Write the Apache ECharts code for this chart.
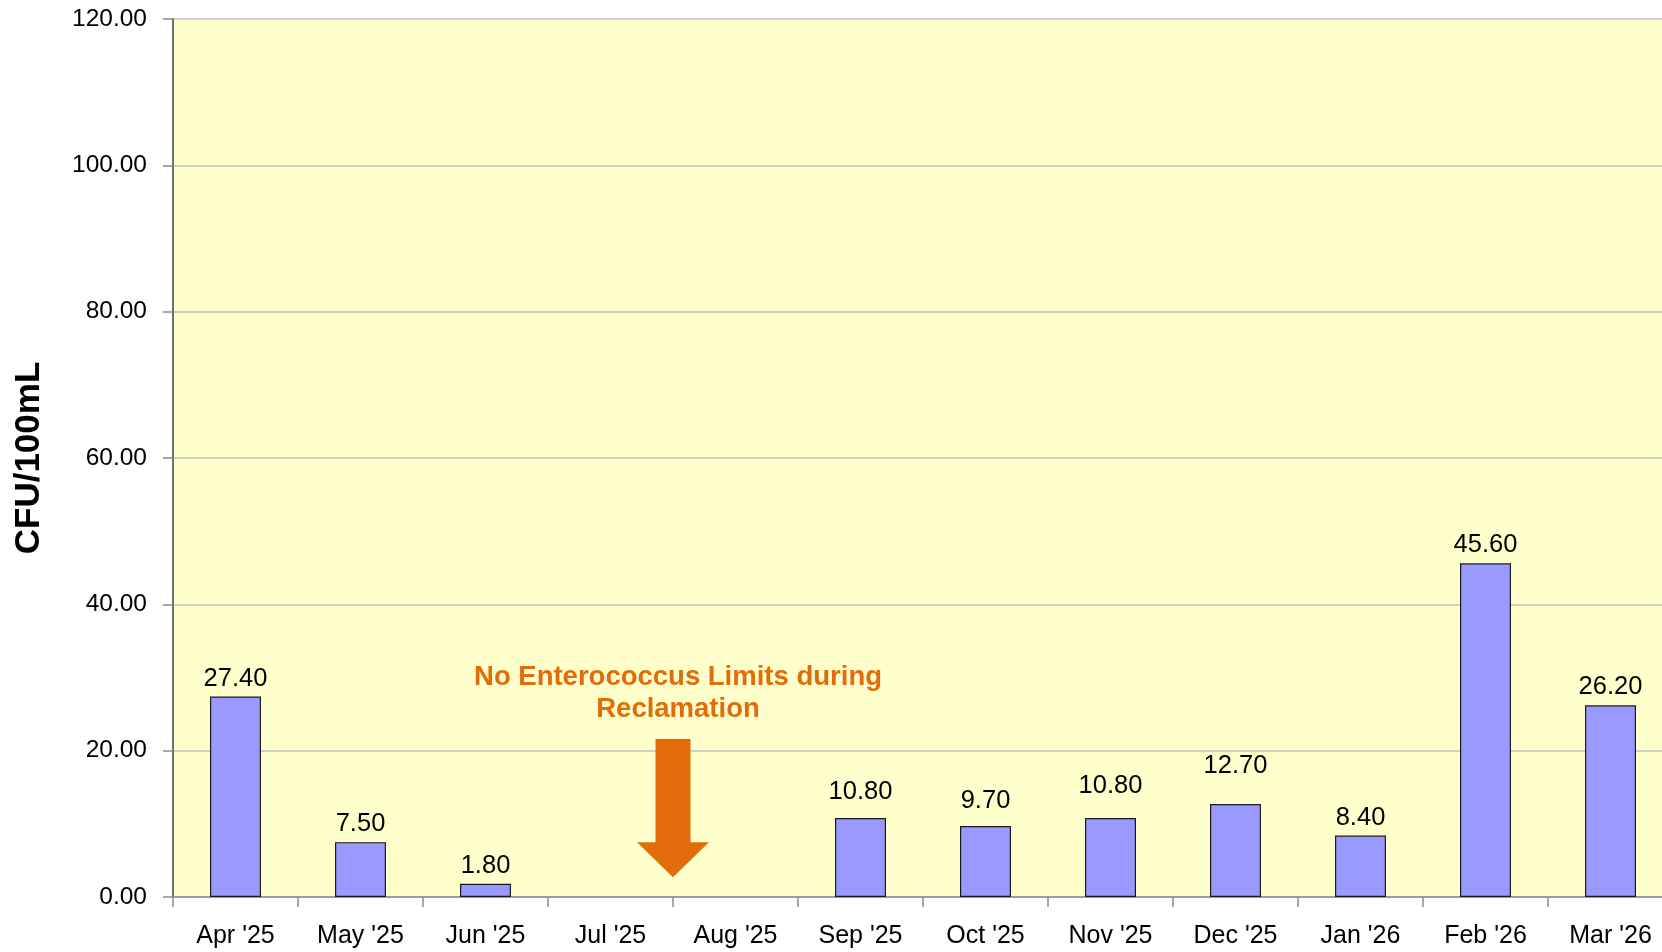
<!DOCTYPE html>
<html>
<head>
<meta charset="utf-8">
<script src="https://cdn.jsdelivr.net/npm/echarts@6/dist/echarts.min.js"></script>
<style>
  html, body { margin: 0; padding: 0; background: #ffffff; }
  #chart { width: 1662px; height: 952px; }
</style>
</head>
<body>
<div id="chart"></div>
<script>
// Monthly enterococcus results (CFU/100mL)
const months = ["Apr '25", "May '25", "Jun '25", "Jul '25", "Aug '25", "Sep '25",
                "Oct '25", "Nov '25", "Dec '25", "Jan '26", "Feb '26", "Mar '26"];
const enterococcus = [27.4, 7.5, 1.8, null, null, 10.8, 9.7, 10.8, 12.7, 8.4, 45.6, 26.2];
const yTicks = [0, 20, 40, 60, 80, 100, 120];
const noteLines = ["No Enterococcus Limits during", "Reclamation"];

const FONT = "'Liberation Sans', Arial, sans-serif";
const ORANGE = '#E36C0A';

// A few value labels sit a little higher above their bars (pixels of extra lift)
const labelLift = { "Sep '25": 8, "Oct '25": 7, "Nov '25": 14, "Dec '25": 20 };

const barData = enterococcus.map((v, i) => {
  const lift = labelLift[months[i]] || 0;
  return lift ? { value: v, label: { distance: 5 + lift } } : v;
});

const chart = echarts.init(document.getElementById('chart'), null, { renderer: 'canvas' });

chart.setOption({
  animation: false,
  backgroundColor: '#ffffff',
  grid: {
    left: 173, right: -11, top: 19, bottom: 55,
    outerBoundsMode: 'none',
    show: true, backgroundColor: '#FFFFCC', borderWidth: 0
  },
  xAxis: {
    type: 'category',
    data: months,
    axisLine: { lineStyle: { color: '#8c8c8c', width: 1.5 } },
    axisTick: { show: true, alignWithLabel: false, length: 10, lineStyle: { color: '#8c8c8c', width: 1.5 } },
    axisLabel: { color: '#000', fontFamily: FONT, fontSize: 25, margin: 27 }
  },
  yAxis: {
    type: 'value',
    min: yTicks[0], max: yTicks[yTicks.length - 1], interval: yTicks[1] - yTicks[0],
    name: 'CFU/100mL',
    nameLocation: 'middle',
    nameGap: 126,
    nameRotate: 90,
    nameTextStyle: { color: '#000', fontFamily: FONT, fontSize: 35, fontWeight: 'bold' },
    axisLine: { show: true, lineStyle: { color: '#404040', width: 1.5 } },
    axisTick: { show: true, length: 10, lineStyle: { color: '#8c8c8c', width: 1.5 } },
    axisLabel: { color: '#000', fontFamily: FONT, fontSize: 24.5, margin: 26,
                 formatter: v => v.toFixed(2) },
    splitLine: { show: true, lineStyle: { color: '#c0c0c0', width: 1.5 } }
  },
  series: [{
    type: 'bar',
    data: barData,
    barWidth: 51,
    itemStyle: { color: '#9999FF', borderColor: '#1a1a1a', borderWidth: 1.2 },
    label: {
      show: true, position: 'top', distance: 5,
      color: '#000', fontFamily: FONT, fontSize: 25.5,
      formatter: p => (p.value == null ? '' : Number(p.value).toFixed(2))
    }
  }]
});

// Annotation: note text and down arrow between Jul and Aug, placed in data space
function drawNote() {
  const xJul = chart.convertToPixel({ xAxisIndex: 0 }, months[3]);
  const xAug = chart.convertToPixel({ xAxisIndex: 0 }, months[4]);
  const cx = (xJul + xAug) / 2;
  const py = v => chart.convertToPixel({ yAxisIndex: 0 }, v);
  const shaftTop = py(21.6), headTop = py(7.5), tip = py(2.7);
  const shaftHalf = 17.5, headHalf = 36;
  chart.setOption({
    graphic: [
      {
        type: 'polygon', z: 100,
        shape: { points: [
          [cx - shaftHalf, shaftTop], [cx + shaftHalf, shaftTop],
          [cx + shaftHalf, headTop], [cx + headHalf, headTop],
          [cx, tip], [cx - headHalf, headTop], [cx - shaftHalf, headTop]
        ] },
        style: { fill: ORANGE }
      },
      {
        type: 'text', z: 100,
        x: cx + 5, y: py(30.0),
        style: { text: noteLines[0], fill: ORANGE, font: 'bold 27.5px ' + FONT,
                 align: 'center', verticalAlign: 'middle' }
      },
      {
        type: 'text', z: 100,
        x: cx + 5, y: py(25.6),
        style: { text: noteLines[1], fill: ORANGE, font: 'bold 27.5px ' + FONT,
                 align: 'center', verticalAlign: 'middle' }
      }
    ]
  });
}
drawNote();
</script>
</body>
</html>
